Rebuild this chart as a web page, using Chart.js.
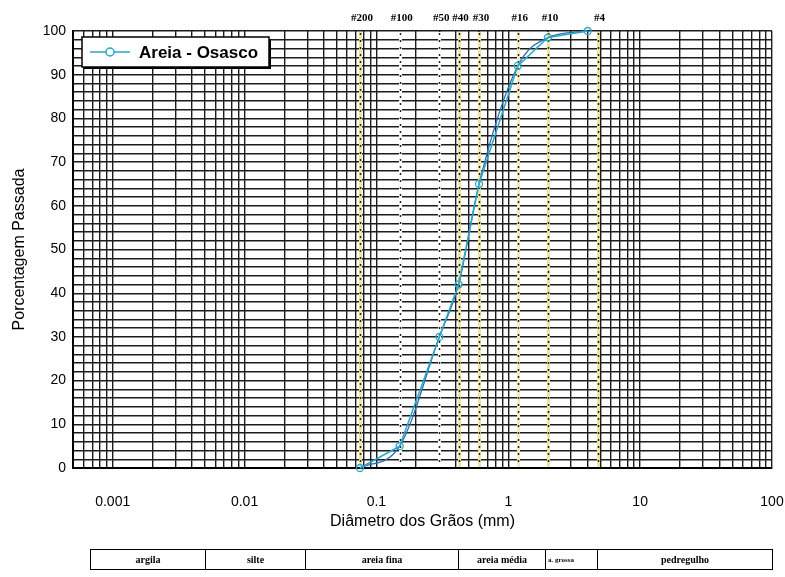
<!DOCTYPE html>
<html>
<head>
<meta charset="utf-8">
<script src="https://cdn.jsdelivr.net/npm/chart.js@4"></script>
<style>
  body { margin: 0; background: #fff; }
  #wrap { position: relative; width: 785px; height: 577px; }
  #grafico { position: absolute; left: 0; top: 0; }
  #faixas {
    position: absolute; left: 90px; top: 549px; width: 682px; height: 21px;
    border-collapse: collapse; table-layout: fixed;
    font: bold 10px "Liberation Serif", serif; color: #000;
  }
  #faixas td { border: 1px solid #000; text-align: center; padding: 0; white-space: nowrap; overflow: hidden; }
  #faixas td.esq { text-align: left; padding-left: 2px; font-size: 7px; }
</style>
</head>
<body>
<div id="wrap">
  <canvas id="grafico" width="785" height="577"></canvas>
  <table id="faixas"><colgroup id="colunas"></colgroup><tr id="linhaFaixas"></tr></table>
</div>
<script>
// ensaio de granulometria - areia de Osasco
const diametros = [0.075, 0.15, 0.3, 0.42, 0.6, 1.18, 2.0, 4.0];
const passante = [0, 5, 30, 42, 65, 92, 98.5, 100];

// peneiras marcadas no topo
const peneiras = ['#200', '#100', '#50', '#40', '#30', '#16', '#10', '#4'];
const aberturas = [0.075, 0.15, 0.3, 0.42, 0.6, 1.18, 2.0, 4.75];

const rotulosX = [0.001, 0.01, 0.1, 1, 10, 100];
const rotulosY = [0, 10, 20, 30, 40, 50, 60, 70, 80, 90, 100];

// faixas granulometricas da tabela de baixo
const fracoes = ['argila', 'silte', 'areia fina', 'areia média', 'a. grossa', 'pedregulho'];
const largurasFracoes = [115, 100, 153, 87, 52, 175];

const colunas = document.getElementById('colunas');
const linha = document.getElementById('linhaFaixas');
fracoes.forEach((f, i) => {
    const col = document.createElement('col');
    col.style.width = largurasFracoes[i] + 'px';
    colunas.appendChild(col);
    const td = document.createElement('td');
    td.textContent = f;
    if (f === 'a. grossa') td.className = 'esq';
    linha.appendChild(td);
});

const corFundoPeneira = ['#efe4a0', '#ffffff', '#ffffff', '#efe4a0', '#efe4a0', '#f3ebbf', '#efe4a0', '#efe4a0'];

const linhasPeneiras = {
    id: 'linhasPeneiras',
    beforeDatasetsDraw(chart) {
        const ctx = chart.ctx;
        const a = chart.chartArea;
        const xs = chart.scales.x;
        ctx.save();
        aberturas.forEach((ab, i) => {
            const x = Math.round(xs.getPixelForValue(ab)) + 0.5;
            ctx.setLineDash([]);
            ctx.strokeStyle = corFundoPeneira[i];
            ctx.lineWidth = 3;
            ctx.beginPath(); ctx.moveTo(x, a.top + 1); ctx.lineTo(x, a.bottom - 1); ctx.stroke();
            ctx.setLineDash([2, 5]);
            ctx.strokeStyle = '#222';
            ctx.lineWidth = 1.5;
            ctx.beginPath(); ctx.moveTo(x, a.top + 2); ctx.lineTo(x, a.bottom - 2); ctx.stroke();
        });
        ctx.setLineDash([]);
        ctx.fillStyle = '#000';
        ctx.font = 'bold 11px "Liberation Serif"';
        ctx.textAlign = 'center';
        ctx.textBaseline = 'middle';
        peneiras.forEach((p, i) => {
            ctx.fillText(p, xs.getPixelForValue(aberturas[i]) + 2, 18);
        });
        ctx.restore();
    }
};

const legendaInterna = {
    id: 'legendaInterna',
    afterDraw(chart) {
        const ds = chart.data.datasets[0];
        const ctx = chart.ctx;
        const a = chart.chartArea;
        const x = a.left + 9, y = a.top + 6, w = 187, h = 30;
        ctx.save();
        ctx.fillStyle = '#000';
        ctx.fillRect(x + 2, y + 2, w, h);
        ctx.fillStyle = '#fff';
        ctx.fillRect(x, y, w, h);
        ctx.strokeStyle = '#000';
        ctx.lineWidth = 1.5;
        ctx.strokeRect(x, y, w, h);
        const cy = y + h / 2;
        ctx.strokeStyle = ds.borderColor;
        ctx.lineWidth = 1.5;
        ctx.beginPath(); ctx.moveTo(x + 8, cy); ctx.lineTo(x + 48, cy); ctx.stroke();
        ctx.fillStyle = '#fff';
        ctx.beginPath(); ctx.arc(x + 28, cy, 4, 0, Math.PI * 2); ctx.fill(); ctx.stroke();
        ctx.fillStyle = '#000';
        ctx.font = 'bold 17px "Liberation Sans"';
        ctx.textAlign = 'left';
        ctx.textBaseline = 'middle';
        ctx.fillText(ds.label, x + 57, cy + 1);
        ctx.restore();
    }
};

function ehPotencia(v) {
    const l = Math.log10(v);
    return Math.abs(l - Math.round(l)) < 1e-9;
}

new Chart(document.getElementById('grafico'), {
    type: 'line',
    data: {
        datasets: [{
            label: 'Areia - Osasco',
            data: diametros.map((d, i) => ({ x: d, y: passante[i] })),
            borderColor: '#2ba6c6',
            borderWidth: 1.5,
            pointStyle: 'circle',
            pointRadius: 3.5,
            pointBackgroundColor: 'rgba(255,255,255,0)',
            pointBorderColor: '#2ba6c6',
            pointBorderWidth: 1.3,
            tension: 0,
            clip: false
        }, {
            label: 'curva',
            data: diametros.map((d, i) => ({ x: d, y: passante[i] })),
            borderColor: '#2e6db3',
            borderWidth: 1.3,
            pointRadius: 0,
            cubicInterpolationMode: 'monotone',
            clip: false
        }]
    },
    options: {
        responsive: false,
        animation: false,
        layout: { padding: { top: 31, right: 13, left: 0, bottom: 40 } },
        plugins: {
            legend: { display: false },
            tooltip: { enabled: false }
        },
        scales: {
            x: {
                type: 'logarithmic',
                min: 0.0005,
                max: 100,
                afterBuildTicks(scale) {
                    const t = [];
                    for (let e = -4; e <= 2; e++) {
                        for (let m = 1; m <= 9; m++) {
                            const v = Number((m * Math.pow(10, e)).toPrecision(6));
                            if (v >= scale.min && v <= scale.max) t.push({ value: v });
                        }
                    }
                    scale.ticks = t;
                },
                afterFit(scale) {
                    scale.height = 69;
                    scale.paddingLeft = 0;
                    scale.paddingRight = 0;
                },
                grid: { color: '#1c1c1c', lineWidth: 1.4, drawTicks: false },
                border: { color: '#000', width: 2 },
                ticks: {
                    autoSkip: false,
                    maxRotation: 0,
                    padding: 26,
                    color: '#000',
                    font: { family: 'Liberation Sans', size: 14 },
                    callback: (v) => (ehPotencia(v) && rotulosX.includes(Number(v.toPrecision(6))) ? String(v) : '')
                },
                title: {
                    display: true,
                    text: 'Diâmetro dos Grãos (mm)',
                    color: '#000',
                    font: { family: 'Liberation Sans', size: 16 },
                    padding: { top: 0, bottom: 6 }
                }
            },
            y: {
                min: 0,
                max: 100,
                afterFit(scale) {
                    scale.width = 73;
                    scale.paddingTop = 0;
                    scale.paddingBottom = 0;
                },
                grid: { color: '#1c1c1c', lineWidth: 1.4, drawTicks: false },
                border: { color: '#000', width: 2 },
                ticks: {
                    stepSize: 2,
                    autoSkip: false,
                    padding: 7,
                    color: '#000',
                    font: { family: 'Liberation Sans', size: 14 },
                    callback: (v) => (rotulosY.includes(v) ? String(v) : '')
                },
                title: {
                    display: true,
                    text: 'Porcentagem Passada',
                    color: '#000',
                    font: { family: 'Liberation Sans', size: 16 },
                    padding: { top: 10, bottom: 0 }
                }
            }
        }
    },
    plugins: [linhasPeneiras, legendaInterna]
});
</script>
</body>
</html>
